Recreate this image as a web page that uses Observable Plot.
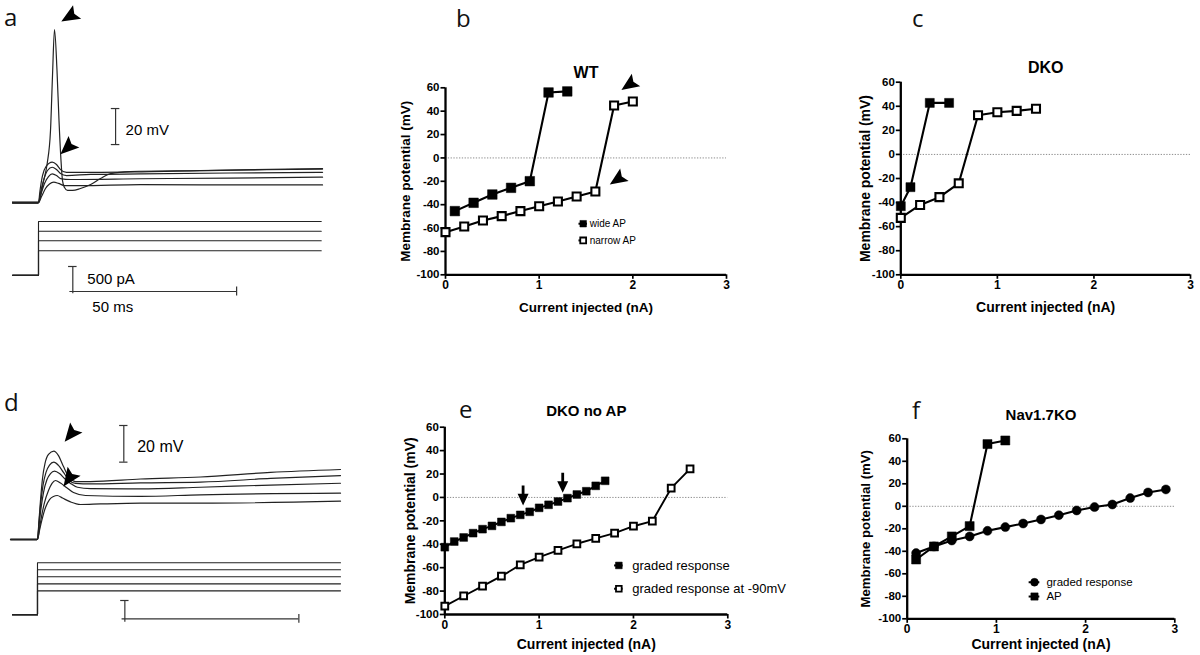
<!DOCTYPE html>
<html><head><meta charset="utf-8">
<script src="https://cdn.jsdelivr.net/npm/d3@7"></script>
<script src="https://cdn.jsdelivr.net/npm/@observablehq/plot@0.6"></script>
<style>
html,body{margin:0;padding:0;background:#fff;overflow:hidden}
#fig{position:relative;width:1200px;height:655px;overflow:hidden;background:#fff}
.pan{position:absolute}
.pan svg{display:block;overflow:visible;background:transparent;max-width:none}
</style></head>
<body><div id="fig"></div>
<script>
const FONT = '"Liberation Sans", Arial, Helvetica, sans-serif';

// ---------------- Shared axis ticks / labels ----------------
const xTicks = [0, 1, 2, 3];
const yTicks = [-100, -80, -60, -40, -20, 0, 20, 40, 60];
const xLabel = "Current injected (nA)";
const yLabel = "Membrane potential (mV)";
const panelLetters = ["a", "b", "c", "d", "e", "f"];

// ---------------- Panel b: WT ----------------
const bTitle = "WT";
const bWideI = [0.1, 0.3, 0.5, 0.7, 0.9, 1.1, 1.3];
const bWideV = [-45.5, -38.4, -31.3, -25.6, -19.9, 56, 56.9];
const bNarrowI = [0, 0.2, 0.4, 0.6, 0.8, 1.0, 1.2, 1.4, 1.6, 1.8, 2.0];
const bNarrowV = [-63.5, -58.7, -53.5, -49.8, -45.5, -41.3, -37.3, -33, -28.7, 44.9, 48.3];
const bLegend = ["wide AP", "narrow AP"];

// ---------------- Panel c: DKO ----------------
const cTitle = "DKO";
const cFilledI = [0, 0.1, 0.3, 0.5];
const cFilledV = [-43, -27.2, 42.8, 42.8];
const cOpenI = [0, 0.2, 0.4, 0.6, 0.8, 1.0, 1.2, 1.4];
const cOpenV = [-52.7, -42, -35.5, -24, 32.6, 35, 36.2, 37.9];

// ---------------- Panel e: DKO no AP ----------------
const eTitle = "DKO no AP";
const eGradedI = [0, 0.1, 0.2, 0.3, 0.4, 0.5, 0.6, 0.7, 0.8, 0.9, 1.0, 1.1, 1.2, 1.3, 1.4, 1.5, 1.6, 1.7];
const eGradedV = [-42.5, -37.7, -34.2, -30.5, -27.1, -24.3, -20.9, -17.7, -14.9, -12.3, -8.9, -6.3, -3.5, -0.6, 2.5, 5.3, 9.9, 14.2];
const eHypI = [0, 0.2, 0.4, 0.6, 0.8, 1.0, 1.2, 1.4, 1.6, 1.8, 2.0, 2.2, 2.4, 2.6];
const eHypV = [-92.8, -84.2, -75.8, -67.3, -57.6, -51, -45.3, -39.6, -35, -30.5, -24.6, -20.3, 7.9, 24.4];
const eLegend = ["graded response", "graded response at -90mV"];

// ---------------- Panel f: Nav1.7KO ----------------
const fTitle = "Nav1.7KO";
const fGradedI = [0.1, 0.3, 0.5, 0.7, 0.9, 1.1, 1.3, 1.5, 1.7, 1.9, 2.1, 2.3, 2.5, 2.7, 2.9];
const fGradedV = [-41.6, -35.7, -30.4, -26.8, -21.8, -18.5, -15.3, -11.7, -7.9, -3.7, -0.7, 1.6, 7.3, 12.3, 15];
const fApI = [0.1, 0.3, 0.5, 0.7, 0.9, 1.1];
const fApV = [-47.3, -35.7, -26.8, -17.6, 55.3, 58.5];
const fLegend = ["graded response", "AP"];

// ---------------- Panel a: voltage traces [ms, mV] ----------------
const aTraces = [
  [[-7.9,-65],[0,-65],[0.61,-61.1],[1.52,-53.3],[2.65,-43.3],[3.66,-25],[4.27,5.6],[4.88,31.1],[5.64,8.3],[6.25,-19.4],[6.86,-41.7],[7.32,-52.8],[7.93,-56.7],[8.84,-58.3],[10.4,-58.3],[12.8,-57.2],[15.9,-55],[18.9,-51.7],[22.0,-48.9],[28.0,-47.8],[49.4,-47.2],[86.6,-46.1]],
  [[-7.9,-65],[0,-65],[0.46,-58.3],[1.22,-50.0],[2.29,-45.0],[4.18,-42.6],[5.49,-43.9],[6.71,-46.7],[8.54,-48.3],[12.8,-48.3],[34.1,-47.8],[64.6,-46.9],[86.6,-46.4]],
  [[-7.9,-65],[0,-65],[0.61,-59.4],[1.52,-52.8],[2.74,-47.2],[4.18,-45.4],[5.49,-46.7],[6.71,-48.9],[8.54,-50.0],[15.9,-49.4],[31.1,-49.1],[58.5,-48.6],[86.6,-48.2]],
  [[-7.9,-65],[0,-65],[0.91,-59.4],[1.83,-54.4],[3.05,-50.6],[4.18,-49.1],[5.49,-50.0],[6.71,-51.7],[9.76,-52.2],[31.1,-51.8],[58.5,-51.4],[86.6,-50.9]],
  [[-7.9,-65],[0,-65],[0.91,-61.7],[2.13,-57.2],[3.35,-54.7],[4.66,-53.7],[6.10,-54.4],[7.93,-55.6],[12.8,-55.6],[31.1,-55.0],[58.5,-55.2],[86.6,-55.2]]
];
const aStepLevels = [490, 690, 880, 1075];   // pA
const aStepTimes = [-7.93, 0, 86.2];          // record start, onset, end (ms)
const aMvBar = {t: 23.5, v0: -32.8, v1: -12.8, text: "20 mV"};
const aPaBar = {t: 10.46, i0: -372, i1: 174, text: "500 pA"};
const aMsBar = {t0: 10.46, t1: 60.4, i: -326, text: "50 ms"};

// ---------------- Panel d: voltage traces [ms, mV] ----------------
const dTraces = [
  [[-7.76,-65],[0,-65],[0.43,-54.6],[0.86,-43.7],[1.44,-31.7],[2.16,-23.5],[3.16,-18.6],[4.68,-16.8],[6.03,-19.2],[7.47,-25.2],[8.91,-30.6],[10.92,-33.4],[15.23,-33.4],[29.6,-32.0],[46.84,-30.9],[66.95,-28.4],[87.07,-26.8]],
  [[-7.76,-65],[0,-65],[0.43,-55.7],[0.86,-46.5],[1.58,-35.5],[2.44,-28.4],[3.45,-24.4],[4.68,-22.8],[6.03,-24.6],[7.47,-28.4],[8.91,-32.3],[10.92,-34.4],[15.23,-34.7],[29.6,-34.1],[46.84,-33.7],[66.95,-31.7],[87.07,-30.1]],
  [[-7.76,-65],[0,-65],[0.43,-57.4],[1.01,-48.1],[1.72,-39.4],[2.73,-32.3],[3.74,-29.0],[4.89,-27.7],[6.32,-29.0],[7.76,-31.7],[9.48,-34.4],[11.49,-36.5],[15.23,-37.2],[29.6,-37.4],[46.84,-36.5],[66.95,-35.3],[87.07,-34.3]],
  [[-7.76,-65],[0,-65],[0.57,-59.0],[1.15,-52.5],[2.01,-44.9],[3.16,-38.3],[4.17,-34.4],[5.17,-32.8],[6.61,-34.2],[8.33,-36.6],[10.34,-39.4],[13.79,-41.0],[29.6,-41.5],[46.84,-40.6],[87.07,-39.7]],
  [[-7.76,-65],[0,-65],[0.57,-60.1],[1.29,-54.1],[2.30,-47.5],[3.45,-43.2],[4.60,-41.5],[5.66,-41.0],[7.18,-42.4],[9.48,-44.5],[12.36,-45.9],[18.10,-45.6],[29.6,-45.2],[46.84,-45.2],[87.07,-44.1]]
];
const dStepLevels = [655, 845, 1040, 1230, 1420];
const dStepTimes = [-7.18, 0, 87.07];
const dMvBar = {t: 24.8, v0: -22.8, v1: -2.8, text: "20 mV"};
const dPaBar = {t: 25.1, i0: -200, i1: 391};
const dMsBar = {t0: 25.1, t1: 75.1, i: -109};

// ---------------- helpers ----------------
const fig = document.getElementById("fig");
function place(node, left, top) {
  const div = document.createElement("div");
  div.className = "pan";
  div.style.left = left + "px";
  div.style.top = top + "px";
  div.appendChild(node);
  fig.appendChild(div);
}
const pts = (xs, ys) => d3.zip(xs, ys).map(([i, v]) => ({i, v}));

// filled, slightly notched arrowhead pointing up (rotated by the mark)
const arrowHead = {draw(ctx, size) {
  const r = Math.sqrt(size / Math.PI), L = 2.1 * r, w = 1.8 * r;
  ctx.moveTo(0, -L / 2); ctx.lineTo(w / 2, L / 2); ctx.lineTo(0, L * 0.32); ctx.lineTo(-w / 2, L / 2); ctx.closePath();
}};
// downward arrow with shaft
const downArrow = {draw(ctx, size) {
  const r = Math.sqrt(size / Math.PI), L = 2 * r, hw = 0.55 * r, sw = 0.14 * r, hb = -0.08 * L;
  ctx.moveTo(-sw, -L / 2); ctx.lineTo(sw, -L / 2); ctx.lineTo(sw, hb); ctx.lineTo(hw, hb);
  ctx.lineTo(0, L / 2); ctx.lineTo(-hw, hb); ctx.lineTo(-sw, hb); ctx.closePath();
}};

function ivPanel(cfg) {
  const [x0, y0, x1, y1] = cfg.frame;
  const left = Math.floor(x0) - 70, top = Math.floor(y0) - 40;
  const ml = x0 - left, mt = y0 - top, mr = cfg.mr ?? 14, mb = 48;
  const width = x1 - left + mr, height = y1 - top + mb;
  const svg = Plot.plot({
    width, height, marginLeft: ml, marginTop: mt, marginRight: mr, marginBottom: mb,
    x: {domain: [0, 3]}, y: {domain: [-100, 60]},
    style: {fontFamily: FONT, background: "transparent", overflow: "visible", color: "black"},
    marks: [
      Plot.ruleY([0], {x1: 0, x2: 3, stroke: "#808080", strokeWidth: 0.9, strokeDasharray: "1.3,1.5"}),
      Plot.axisY({ticks: yTicks, tickFormat: d => String(d), tickSize: 4.5, tickPadding: 1.5, strokeWidth: 1.7, fontSize: 11.5, fontWeight: "bold", label: null}),
      Plot.axisX({ticks: xTicks, tickFormat: d => String(d), tickSize: 4.5, tickPadding: 1.5, strokeWidth: 1.7, fontSize: 12, fontWeight: "bold", label: null}),
      Plot.ruleX([0], {y1: -100, y2: 60, strokeWidth: 2.3}),
      Plot.ruleY([-100], {x1: 0, x2: 3, strokeWidth: 2.3}),
      ...cfg.marks,
      Plot.text([cfg.title], {text: d => d, frameAnchor: "top", dy: cfg.titleDy, lineAnchor: "middle", textAnchor: "middle", fontSize: cfg.titleSize, fontWeight: "bold"}),
      Plot.text([yLabel], {text: d => d, frameAnchor: "left", rotate: -90, dx: -cfg.yLabDx, lineAnchor: "middle", textAnchor: "middle", fontSize: cfg.yLabSize, fontWeight: "bold"}),
      Plot.text([xLabel], {text: d => d, frameAnchor: "bottom", dy: cfg.xLabDy, lineAnchor: "middle", textAnchor: "middle", fontSize: cfg.xLabSize, fontWeight: "bold"})
    ]
  });
  place(svg, left, top);
}

function legendMarks(items, opt) {
  const out = [];
  items.forEach((it, k) => {
    const row = [{i: opt.mi, v: opt.v[k]}];
    out.push(Plot.ruleY(row, {y: "v", x1: opt.mi - opt.stub, x2: opt.mi + opt.stub, strokeWidth: 2}));
    out.push(Plot.dot(row, {x: "i", y: "v", symbol: it.symbol, r: it.r, fill: it.fill, stroke: "black", strokeWidth: it.sw}));
  });
  out.push(Plot.text(opt.labels, {text: d => d, x: () => opt.ti, y: (d, k) => opt.v[k], textAnchor: "start", lineAnchor: "middle", fontSize: opt.fs, fontWeight: "normal"}));
  return out;
}

// ---------------- Panel b ----------------
ivPanel({
  frame: [445, 87.3, 726, 274.3], title: bTitle, titleDy: -14.8, titleSize: 16,
  yLabDx: 40, yLabSize: 13.5, xLabDy: 33, xLabSize: 13.5,
  marks: [
    Plot.line(pts(bWideI, bWideV), {x: "i", y: "v", strokeWidth: 2.1}),
    Plot.line(pts(bNarrowI, bNarrowV), {x: "i", y: "v", strokeWidth: 2.1}),
    Plot.dot(pts(bWideI, bWideV), {x: "i", y: "v", symbol: "square", r: 5.4, fill: "black", stroke: "black", strokeWidth: 0.5}),
    Plot.dot(pts(bNarrowI, bNarrowV), {x: "i", y: "v", symbol: "square", r: 4.5, fill: "white", stroke: "black", strokeWidth: 2.1}),
    Plot.dot([{i: 1.956, v: 62.4}, {i: 1.832, v: -18.6}], {x: "i", y: "v", symbol: arrowHead, r: 8.4, rotate: 236, fill: "black", stroke: "none"}),
    ...legendMarks([{symbol: "square", fill: "black", r: 3.7, sw: 0.5}, {symbol: "square", fill: "white", r: 3.3, sw: 1.8}],
      {mi: 1.47, ti: 1.54, v: [-56.3, -70.6], fs: 10, stub: 0.045, labels: bLegend})
  ]
});

// ---------------- Panel c ----------------
ivPanel({
  frame: [900.3, 81.7, 1190, 274.3], mr: 9, title: cTitle, titleDy: -14.3, titleSize: 16,
  yLabDx: 35, yLabSize: 14, xLabDy: 33, xLabSize: 14,
  marks: [
    Plot.line(pts(cFilledI, cFilledV), {x: "i", y: "v", strokeWidth: 2.1}),
    Plot.line(pts(cOpenI, cOpenV), {x: "i", y: "v", strokeWidth: 2.1}),
    Plot.dot(pts(cFilledI, cFilledV), {x: "i", y: "v", symbol: "square", r: 5.1, fill: "black", stroke: "black", strokeWidth: 0.5}),
    Plot.dot(pts(cOpenI, cOpenV), {x: "i", y: "v", symbol: "square", r: 4.5, fill: "white", stroke: "black", strokeWidth: 2.1})
  ]
});

// ---------------- Panel e ----------------
ivPanel({
  frame: [444.3, 426.7, 727.3, 614], title: eTitle, titleDy: -16, titleSize: 15,
  yLabDx: 34, yLabSize: 14, xLabDy: 30, xLabSize: 14,
  marks: [
    Plot.line(pts(eGradedI, eGradedV), {x: "i", y: "v", strokeWidth: 1.9}),
    Plot.line(pts(eHypI, eHypV), {x: "i", y: "v", strokeWidth: 1.9}),
    Plot.dot(pts(eGradedI, eGradedV), {x: "i", y: "v", symbol: "square", r: 4.4, fill: "black", stroke: "black", strokeWidth: 0.5}),
    Plot.dot(pts(eHypI, eHypV), {x: "i", y: "v", symbol: "square", r: 3.8, fill: "white", stroke: "black", strokeWidth: 2}),
    Plot.dot([{i: 0.83, v: 1.7}, {i: 1.25, v: 12.5}], {x: "i", y: "v", symbol: downArrow, r: 10, fill: "black", stroke: "none"}),
    ...legendMarks([{symbol: "square", fill: "black", r: 3.8, sw: 0.5}, {symbol: "square", fill: "white", r: 3.2, sw: 1.8}],
      {mi: 1.845, ti: 1.987, v: [-58.1, -78.0], fs: 13, stub: 0.045, labels: eLegend})
  ]
});

// ---------------- Panel f ----------------
ivPanel({
  frame: [906.7, 438.3, 1174.3, 618.3], title: fTitle, titleDy: -23.7, titleSize: 15,
  yLabDx: 41.7, yLabSize: 13.2, xLabDy: 26, xLabSize: 14,
  marks: [
    Plot.line(pts(fGradedI, fGradedV), {x: "i", y: "v", strokeWidth: 2.1}),
    Plot.line(pts(fApI, fApV), {x: "i", y: "v", strokeWidth: 2.1}),
    Plot.dot(pts(fGradedI, fGradedV), {x: "i", y: "v", symbol: "circle", r: 4.5, fill: "black", stroke: "black", strokeWidth: 0.5}),
    Plot.dot(pts(fApI, fApV), {x: "i", y: "v", symbol: "square", r: 5.1, fill: "black", stroke: "black", strokeWidth: 0.5}),
    ...legendMarks([{symbol: "circle", fill: "black", r: 3.9, sw: 0.5}, {symbol: "square", fill: "black", r: 4.1, sw: 0.5}],
      {mi: 1.427, ti: 1.561, v: [-67.5, -80.2], fs: 11.5, stub: 0.06, labels: fLegend})
  ]
});

// ---------------- Trace panels (a, d) ----------------
function tracePlot(cfg) {
  const svg = Plot.plot({
    width: cfg.width, height: cfg.height, margin: 0,
    x: {domain: cfg.xDomain, axis: null}, y: {domain: cfg.yDomain, axis: null},
    style: {fontFamily: FONT, background: "transparent", overflow: "visible", color: "black"},
    marks: cfg.marks
  });
  place(svg, cfg.left, cfg.top);
}
const traceRows = traces => traces.flatMap((tr, k) => tr.map(([t, v]) => ({k, t, v})));
const stepRows = (levels, times) => levels.flatMap((L, k) => [
  {k, t: times[0], i: 0}, {k, t: times[1], i: 0}, {k, t: times[1], i: L}, {k, t: times[2], i: L}
]);

// a: voltage
tracePlot({
  left: 0, top: 0, width: 340, height: 215, xDomain: [-11.585, 92.07], yDomain: [-72.2, 47.2],
  marks: [
    Plot.ruleY([-65], {x1: aStepTimes[0], x2: 0, strokeWidth: 2.6, stroke: "#555"}),
    Plot.line(traceRows(aTraces), {x: "t", y: "v", z: "k", curve: "monotone-x", stroke: "#222", strokeWidth: 1.2}),
    Plot.ruleX([aMvBar.t], {y1: aMvBar.v0, y2: aMvBar.v1, strokeWidth: 1.2, stroke: "#333"}),
    Plot.ruleY([aMvBar.v0, aMvBar.v1], {y: d => d, x1: aMvBar.t - 1.3, x2: aMvBar.t + 1.3, strokeWidth: 1.2, stroke: "#333"}),
    Plot.text([aMvBar], {x: "t", y: d => (d.v0 + d.v1) / 2, text: "text", dx: 10, dy: 4, textAnchor: "start", fontSize: 15}),
    Plot.dot([{t: 9.36, v: 38.2, a: 239}, {t: 8.75, v: -34.7, a: 227}], {x: "t", y: "v", rotate: "a", symbol: arrowHead, r: 8.8, fill: "black", stroke: "none"})
  ]
});
// a: current
tracePlot({
  left: 0, top: 205, width: 340, height: 110, xDomain: [-11.585, 92.07], yDomain: [-806, 1394],
  marks: [
    Plot.line(stepRows(aStepLevels, aStepTimes), {x: "t", y: "i", z: "k", stroke: "#222", strokeWidth: 1.1}),
    Plot.ruleX([aPaBar.t], {y1: aPaBar.i0, y2: aPaBar.i1, strokeWidth: 1.2, stroke: "#333"}),
    Plot.ruleY([aPaBar.i1], {x1: aPaBar.t - 1.3, x2: aPaBar.t + 1.3, strokeWidth: 1.2, stroke: "#333"}),
    Plot.ruleY([aMsBar.i], {x1: aMsBar.t0 - 0.9, x2: aMsBar.t1, strokeWidth: 1.2, stroke: "#333"}),
    Plot.ruleX([aMsBar.t1], {y1: aMsBar.i - 90, y2: aMsBar.i + 90, strokeWidth: 1.2, stroke: "#333"}),
    Plot.text([aPaBar], {x: "t", y: d => (d.i0 + d.i1) / 2 + 10, text: "text", dx: 14.5, textAnchor: "start", fontSize: 15}),
    Plot.text([aMsBar], {x: "t0", y: "i", text: "text", dx: 19.5, dy: 16, textAnchor: "start", fontSize: 15})
  ]
});

// d: voltage
tracePlot({
  left: 0, top: 410, width: 345, height: 140, xDomain: [-10.63, 88.5], yDomain: [-71.0, 5.38],
  marks: [
    Plot.ruleY([-65], {x1: dStepTimes[0] - 0.5, x2: 0, strokeWidth: 2.2, stroke: "#333"}),
    Plot.line(traceRows(dTraces), {x: "t", y: "v", z: "k", curve: "monotone-x", stroke: "#222", strokeWidth: 1.2}),
    Plot.ruleX([dMvBar.t], {y1: dMvBar.v0, y2: dMvBar.v1, strokeWidth: 1.2, stroke: "#333"}),
    Plot.ruleY([dMvBar.v0, dMvBar.v1], {y: d => d, x1: dMvBar.t - 1.2, x2: dMvBar.t + 1.2, strokeWidth: 1.2, stroke: "#333"}),
    Plot.text([dMvBar], {x: "t", y: d => (d.v0 + d.v1) / 2, text: "text", dx: 13.4, dy: 3.4, textAnchor: "start", fontSize: 16}),
    Plot.dot([{t: 9.48, v: -7.8, a: 219}, {t: 9.0, v: -31.9, a: 215}], {x: "t", y: "v", rotate: "a", symbol: arrowHead, r: 8.8, fill: "black", stroke: "none"})
  ]
});
// d: current
tracePlot({
  left: 0, top: 555, width: 345, height: 70, xDomain: [-10.63, 88.5], yDomain: [-292, 1620],
  marks: [
    Plot.line(stepRows(dStepLevels, dStepTimes), {x: "t", y: "i", z: "k", stroke: "#222", strokeWidth: 1.1}),
    Plot.ruleX([dPaBar.t], {y1: dPaBar.i0, y2: dPaBar.i1, strokeWidth: 1.2, stroke: "#333"}),
    Plot.ruleY([dPaBar.i1], {x1: dPaBar.t - 1.2, x2: dPaBar.t + 1.2, strokeWidth: 1.2, stroke: "#333"}),
    Plot.ruleY([dMsBar.i], {x1: dMsBar.t0 - 0.8, x2: dMsBar.t1, strokeWidth: 1.2, stroke: "#333"}),
    Plot.ruleX([dMsBar.t1], {y1: dMsBar.i - 120, y2: dMsBar.i + 120, strokeWidth: 1.2, stroke: "#333"})
  ]
});

// ---------------- panel letters ----------------
const letterPos = [[4, 26], [456, 27], [912, 27], [4, 411], [459, 418], [912, 419]];
const over = d3.select("#fig").append("svg")
  .attr("width", 1200).attr("height", 655)
  .style("position", "absolute").style("left", "0px").style("top", "0px").style("pointer-events", "none");
over.selectAll("text").data(panelLetters).join("text")
  .attr("x", (d, k) => letterPos[k][0]).attr("y", (d, k) => letterPos[k][1])
  .attr("font-family", '"Open Sans", "DejaVu Sans", sans-serif').attr("font-size", 24).attr("fill", "#111")
  .text(d => d);
</script></body></html>
